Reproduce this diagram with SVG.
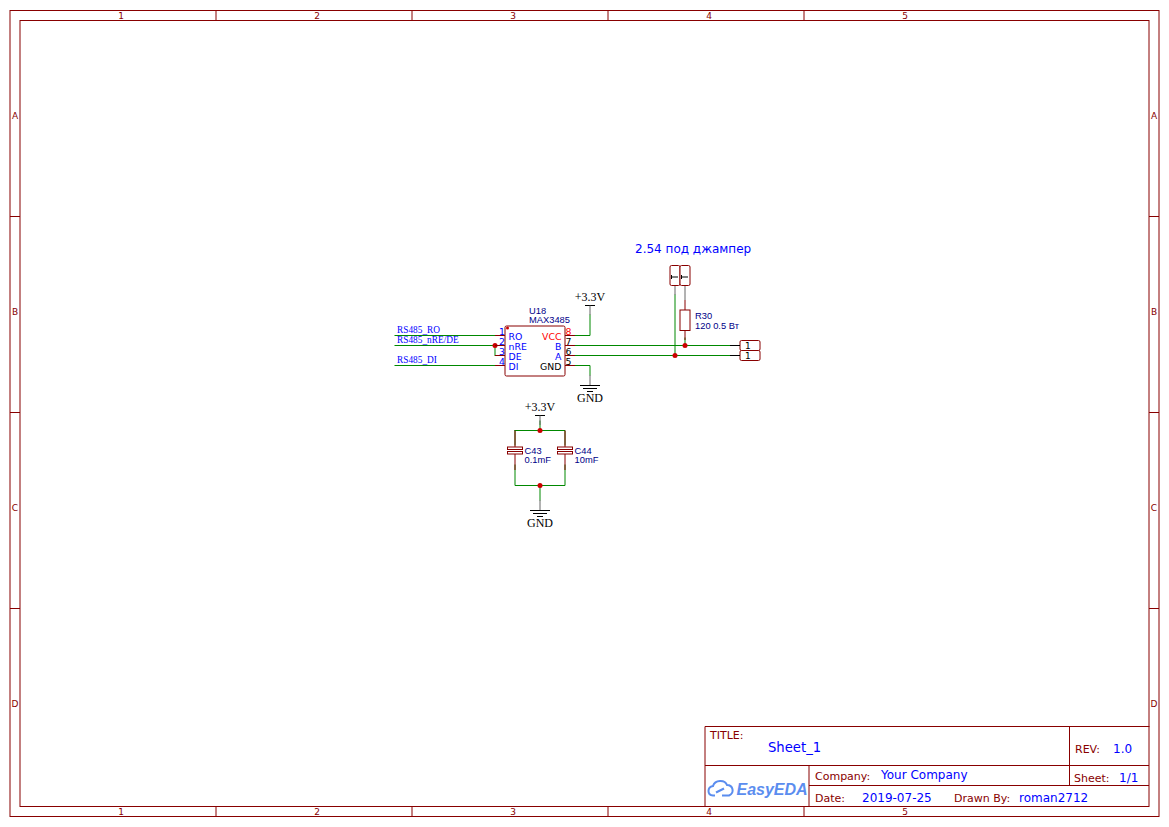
<svg xmlns="http://www.w3.org/2000/svg" width="1169" height="827" viewBox="0 0 1169 827">
<style>
text{font-family:"DejaVu Sans",sans-serif;white-space:pre}
.f{stroke:#880000;stroke-width:1;fill:none}
.ft{fill:#880000;font-size:9px;text-anchor:middle}
.tb{fill:#880000;font-size:11px}
.tv{fill:#0000ff;font-size:12px}
.w{stroke:#008800;stroke-width:1;fill:none;stroke-linecap:square}
.p{stroke:#880000;stroke-width:1;fill:none}
.k{stroke:#000;stroke-width:1;fill:none}
.g{stroke:#666;stroke-width:1;fill:none}
.b{stroke:#880000;stroke-width:1;fill:#fff}
.j{fill:#cc0000}
.pn,.lb{font-family:"Liberation Sans",sans-serif;font-size:9.33px;fill:#000088}
.pin{font-size:9.33px;fill:#0000ff}
.net{font-family:"Liberation Serif",serif;font-size:9.33px;fill:#0000ff}
.pw{font-family:"Liberation Serif",serif;font-size:12px;fill:#000;text-anchor:middle}
.hd{font-size:9px;fill:#000}
</style>
<g id="frame">
<rect class="f" x="10" y="10.500" width="1149" height="806"/>
<rect class="f" x="20" y="20.500" width="1129" height="786"/>
<path class="f" d="M216 10.500V20.500M412 10.500V20.500M608 10.500V20.500M804 10.500V20.500M216 806.500V816.500M412 806.500V816.500M608 806.500V816.500M804 806.500V816.500M10 216.500H20M10 412.500H20M10 608.500H20M1149 216.500H1159M1149 412.500H1159M1149 608.500H1159"/>
<g class="ft">
<text x="121" y="19">1</text><text x="317" y="19">2</text><text x="513" y="19">3</text><text x="709" y="19">4</text><text x="905" y="19">5</text>
<text x="121" y="815">1</text><text x="317" y="815">2</text><text x="513" y="815">3</text><text x="709" y="815">4</text><text x="905" y="815">5</text>
<text x="15" y="119">A</text><text x="15" y="315">B</text><text x="15" y="511">C</text><text x="15" y="707">D</text>
<text x="1154" y="119">A</text><text x="1154" y="315">B</text><text x="1154" y="511">C</text><text x="1154" y="707">D</text>
</g>
</g>
<g id="title-block">
<path class="f" d="M705 806.500V726.500H1149.500M705 765.500H1149M809 765.500V806.500M809 785.500H1149M1069.500 726.500V785.500"/>
<text class="tb" x="710" y="739">TITLE:</text>
<text class="tv" x="768" y="752" style="font-size:13.2px">Sheet_1</text>
<text class="tb" x="1075" y="753">REV:</text>
<text class="tv" x="1113" y="753">1.0</text>
<text class="tb" x="815" y="780">Company:</text>
<text class="tv" x="881" y="779">Your Company</text>
<text class="tb" x="1074" y="782">Sheet:</text>
<text class="tv" x="1119" y="782">1/1</text>
<text class="tb" x="815" y="802">Date:</text>
<text class="tv" x="862" y="802">2019-07-25</text>
<text class="tb" x="954" y="802">Drawn By:</text>
<text class="tv" x="1019" y="802">roman2712</text>
<g id="logo">
<path d="M715 795.500H713C707 795 707 787 713 786C715 779.500 725 779.500 727 785C733 785 735 793 729 795.500H722" fill="none" stroke="#5b8def" stroke-width="2"/>
<path d="M716 792.500L724 788.500" fill="none" stroke="#5b8def" stroke-width="2"/>
<text x="736.500" y="795" style="font-family:'Liberation Sans',sans-serif;font-size:16px;font-weight:bold;font-style:italic;fill:#5b8def">EasyEDA</text>
</g>
</g>
<g id="connectors">
<path class="w" d="M395 335.500H495M395 345.500H495M395 365.500H495M495 345.500V355.500"/>
<path class="w" d="M575 335.500H590V315M575 365.500H590V375M575 345.500H740M575 355.500H740"/>
<path class="w" d="M675 295V355.500M685 338V345.500"/>
<path class="w" d="M540 421V430.500M515 430.500H565V445M515 430.500V445M515 465V485.500H565V465M540 485.500V500"/>
<circle class="j" cx="495" cy="345.500" r="2.500"/>
<circle class="j" cx="685" cy="345.500" r="2.500"/>
<circle class="j" cx="675" cy="355.500" r="2.500"/>
<circle class="j" cx="540" cy="430.500" r="2.500"/>
<circle class="j" cx="540" cy="485.500" r="2.500"/>
</g>
<g id="net-labels">
<text class="net" x="397" y="333">RS485_RO</text>
<text class="net" x="397" y="343">RS485_nRE/DE</text>
<text class="net" x="397" y="363">RS485_DI</text>
</g>
<g id="U18">
<rect x="505" y="326" width="60" height="50" rx="1.500" class="b"/>
<circle class="j" cx="507.500" cy="328" r="1.500"/>
<path class="p" d="M495 335.500H505M495 345.500H505M495 355.500H505M495 365.500H505M565 335.500H575M565 345.500H575M565 355.500H575M565 365.500H575"/>
<text class="pn" x="529" y="314">U18</text>
<text class="pn" x="529" y="323">MAX3485</text>
<g class="pin">
<text x="499" y="334.500">1</text><text x="499" y="344.500">2</text><text x="499" y="354.500">3</text><text x="499" y="364.500">4</text>
<text x="508.500" y="339.500">RO</text><text x="508.500" y="349.500">nRE</text><text x="508.500" y="359.500">DE</text><text x="508.500" y="369.500">DI</text>
<text x="561.500" y="339.500" text-anchor="end" style="fill:#ff0000">VCC</text>
<text x="561.500" y="349.500" text-anchor="end">B</text><text x="561.500" y="359.500" text-anchor="end">A</text>
<text x="561.500" y="369.500" text-anchor="end" style="fill:#000">GND</text>
<text x="565.500" y="334.500" style="fill:#ff0000">8</text><text x="565.500" y="344.500" style="fill:#000">7</text><text x="565.500" y="354.500" style="fill:#000">6</text><text x="565.500" y="364.500" style="fill:#000">5</text>
</g>
</g>
<g id="VCC1"><path class="k" d="M585 305.500H595"/><path class="g" d="M590 305.500V315"/><text class="pw" x="590" y="301">+3.3V</text></g>
<g id="GND1"><path class="g" d="M590 375V385"/><path class="k" d="M580 385.500H600M583 388.500H597M587 391.500H593"/><text class="pw" x="590" y="402">GND</text></g>
<g id="VCC2"><path class="k" d="M535 415.500H545"/><path class="g" d="M540 415.500V425"/><text class="pw" x="540" y="411">+3.3V</text></g>
<g id="GND2"><path class="g" d="M540 500V510"/><path class="k" d="M530 510.500H550M533 513.500H547M537 516.500H543"/><text class="pw" x="540" y="527">GND</text></g>
<g id="C43">
<path class="p" d="M515 430.500V447M515 454V470"/>
<rect class="b" x="507.500" y="447" width="15" height="2.500"/><rect class="b" x="507.500" y="451.500" width="15" height="2.500"/>
<text class="lb" x="524.500" y="454">C43</text><text class="lb" x="524.500" y="463">0.1mF</text>
</g>
<g id="C44">
<path class="p" d="M565 430.500V447M565 454V470"/>
<rect class="b" x="557.500" y="447" width="15" height="2.500"/><rect class="b" x="557.500" y="451.500" width="15" height="2.500"/>
<text class="lb" x="574.500" y="454">C44</text><text class="lb" x="574.500" y="463">10mF</text>
</g>
<g id="R30">
<rect class="b" x="680" y="310" width="10" height="20.500"/>
<path class="p" d="M685 300V310M685 330.500V340"/>
<text class="lb" x="695" y="319">R30</text><text class="lb" x="695" y="329">120 0.5 Вт</text>
</g>
<g id="JP1">
<rect class="b" x="670" y="265.500" width="10" height="20" rx="1.500"/>
<rect class="b" x="680" y="265.500" width="10" height="20" rx="1.500"/>
<path class="k" d="M671.500 277H678M671.500 275V279M681.500 277H688M681.500 275V279"/>
<path class="g" d="M675 286V295M685 286V300"/>
</g>
<g id="H1"><rect class="b" x="740" y="340.500" width="20" height="10" rx="1.500"/><path class="k" d="M730 345.500H740"/><text class="hd" x="745" y="349">1</text></g>
<g id="H2"><rect class="b" x="740" y="350.500" width="20" height="10" rx="1.500"/><path class="k" d="M730 355.500H740"/><text class="hd" x="745" y="359">1</text></g>
<text x="635" y="253" style="font-size:12px;fill:#0000ff">2.54 под джампер</text>
</svg>
